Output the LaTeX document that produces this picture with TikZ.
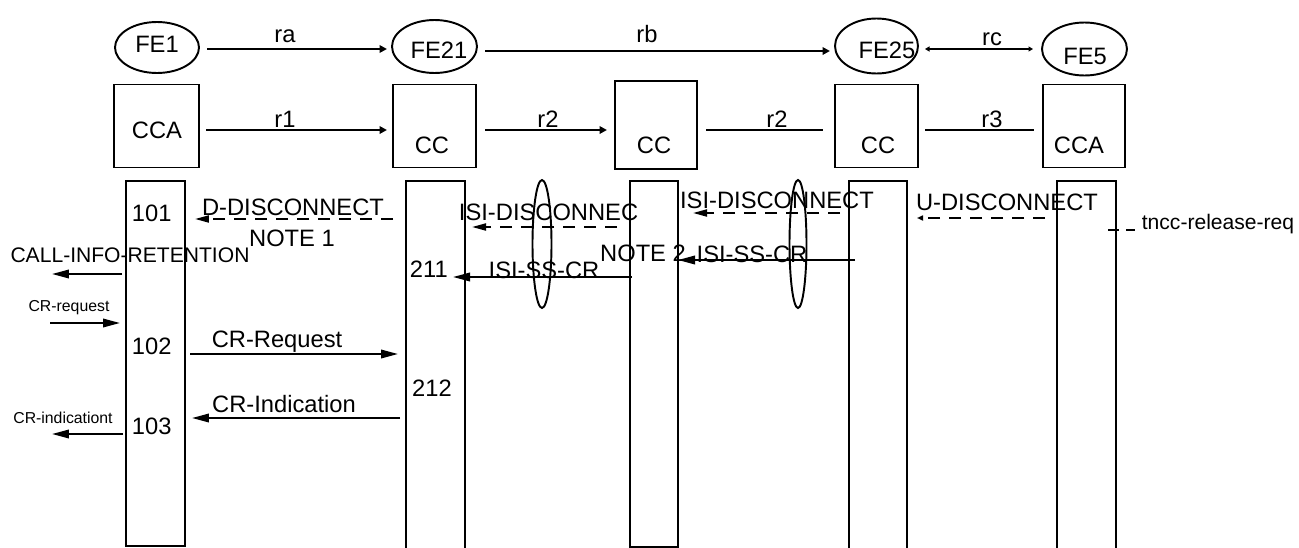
\documentclass[tikz,border=0pt]{standalone}
\usepackage{fontspec}
\setmainfont{Liberation Sans}
\usetikzlibrary{shapes.geometric,arrows.meta}

\tikzset{
  fe/.style={draw, ellipse, inner sep=0pt},
  caja/.style={draw, rectangle, inner sep=0pt},
  vida/.style={draw, rectangle, anchor=north, inner sep=0pt},
  fina/.style={draw, ellipse, inner sep=0pt, minimum height=2.56cm},
  txt/.style={font=\fontsize{13.5pt}{16pt}\selectfont, inner sep=0pt, text height=9.7pt, text depth=0pt},
  txtm/.style={font=\fontsize{12pt}{14pt}\selectfont, inner sep=0pt, text height=8.6pt, text depth=0pt},
  chico/.style={font=\fontsize{9pt}{11pt}\selectfont, inner sep=0pt, text height=6.4pt, text depth=0pt},
  fg/.style={-{Triangle[length=0.34cm,width=0.17cm]}},
  fp/.style={-{Triangle[length=0.15cm,width=0.15cm]}},
  fd/.style={dash pattern=on 0.24cm off 0.18cm, -{Triangle[length=0.28cm,width=0.14cm]}},
}

\begin{document}
\begin{tikzpicture}[x=0.02cm, y=-0.02cm, line width=1.1pt]
  \useasboundingbox (0,0) rectangle (1299,548);

  % Entidades funcionales
  \node[fe, minimum width=1.68cm, minimum height=1.02cm] (fe1) at (157,47.5) {};
  \node[fe, minimum width=1.70cm, minimum height=1.06cm] (fe21) at (434.5,46.5) {};
  \node[fe, minimum width=1.66cm, minimum height=1.10cm] (fe25) at (876.5,46) {};
  \node[fe, minimum width=1.70cm, minimum height=1.06cm] (fe5) at (1084.5,49) {};
  \node[txt] (fe1t) at (157,44) {FE1};
  \node[txt] (fe21t) at (439,50) {FE21};
  \node[txt] (fe25t) at (887,50) {FE25};
  \node[txt] (fe5t) at (1085,56) {FE5};

  % Cajas CCA / CC
  \node[caja, minimum width=1.70cm, minimum height=1.66cm] (b1) at (156.5,126) {};
  \node[caja, minimum width=1.66cm, minimum height=1.66cm] (b2) at (434.5,126) {};
  \node[caja, minimum width=1.64cm, minimum height=1.76cm] (b3) at (656,125) {};
  \node[caja, minimum width=1.66cm, minimum height=1.66cm] (b4) at (876.5,126) {};
  \node[caja, minimum width=1.64cm, minimum height=1.66cm] (b5) at (1084,126) {};
  \node[txt] (b1t) at (157,130) {CCA};
  \node[txt] (b2t) at (432,145) {CC};
  \node[txt] (b3t) at (654,145) {CC};
  \node[txt] (b4t) at (878,145) {CC};
  \node[txt] (b5t) at (1079,145) {CCA};

  % Relaciones
  \coordinate (ra1) at (207,49);   \coordinate (ra2) at (387,49);
  \coordinate (rb1) at (485,51);   \coordinate (rb2) at (830,51);
  \coordinate (rc1) at (925,49);   \coordinate (rc2) at (1033,49);
  \coordinate (r11) at (206,130);  \coordinate (r12) at (387,130);
  \coordinate (r21) at (485,130);  \coordinate (r22) at (607,130);
  \coordinate (r23) at (706,130);  \coordinate (r24) at (823,130);
  \coordinate (r31) at (925,130);  \coordinate (r32) at (1034,130);
  \draw[fp] (ra1) -- (ra2);
  \draw[fp] (rb1) -- (rb2);
  \draw[{Triangle[length=0.09cm,width=0.1cm]}-{Triangle[length=0.09cm,width=0.1cm]}] (rc1) -- (rc2);
  \draw[fp] (r11) -- (r12);
  \draw[fp] (r21) -- (r22);
  \draw (r23) -- (r24);
  \draw (r31) -- (r32);
  \node[txt] (ra) at (285,33.5) {ra};
  \node[txt] (rb) at (647,34) {rb};
  \node[txt] (rc) at (992,36.5) {rc};
  \node[txt] (r1) at (285,119) {r1};
  \node[txt] (r2a) at (548,119) {r2};
  \node[txt] (r2b) at (777,119) {r2};
  \node[txt] (r3) at (992,119) {r3};

  % Lineas de vida
  \node[vida, minimum width=1.18cm, minimum height=7.30cm] (ll1) at (155.5,180) {};
  \node[vida, minimum width=1.18cm, minimum height=8.00cm] (ll2) at (435.5,180) {};
  \node[vida, minimum width=0.96cm, minimum height=7.32cm] (ll3) at (654,180) {};
  \node[vida, minimum width=1.16cm, minimum height=8.00cm] (ll4) at (878,180) {};
  \node[vida, minimum width=1.18cm, minimum height=8.00cm] (ll5) at (1086.5,180) {};
  \node[fina, minimum width=0.38cm] (sel1) at (542,244) {};
  \node[fina, minimum width=0.34cm] (sel2) at (798,244) {};

  % Estados
  \node[txt, anchor=west] (e101) at (131,213) {101};
  \node[txt, anchor=west] (e102) at (131,346) {102};
  \node[txt, anchor=west] (e103) at (131,426) {103};
  \node[txt, anchor=west] (e211) at (409,269) {211};
  \node[txt] (e212) at (432,388) {212};

  % Mensajes
  \coordinate (dd1) at (393,219);  \coordinate (dd2) at (195,219);
  \coordinate (ci1) at (122,274);  \coordinate (ci2) at (52,274);
  \coordinate (cq1) at (50,323);   \coordinate (cq2) at (120,323);
  \coordinate (cr1) at (190,354);  \coordinate (cr2) at (398,354);
  \coordinate (cn1) at (400,418);  \coordinate (cn2) at (192,418);
  \coordinate (ct1) at (123,434);  \coordinate (ct2) at (52,434);
  \coordinate (id1) at (617,227);  \coordinate (id2) at (472,227);
  \coordinate (is1) at (632,277);  \coordinate (is2) at (453,277);
  \coordinate (jd1) at (840,213);  \coordinate (jd2) at (693,213);
  \coordinate (js1) at (855,260);  \coordinate (js2) at (678,260);
  \coordinate (ud1) at (1045,218); \coordinate (ud2) at (917,218);
  \coordinate (tn1) at (1108,230); \coordinate (tn2) at (1135,230);

  \draw[fd] (dd1) -- (dd2);
  \draw[fg] (ci1) -- (ci2);
  \draw[fg] (cq1) -- (cq2);
  \draw[fg] (cr1) -- (cr2);
  \draw[fg] (cn1) -- (cn2);
  \draw[fg] (ct1) -- (ct2);
  \draw[fd] (id1) -- (id2);
  \draw[fg] (is1) -- (is2);
  \draw[fd] (jd1) -- (jd2);
  \draw[fg] (js1) -- (js2);
  \draw[fd, -{Triangle[length=0.12cm,width=0.1cm]}] (ud1) -- (ud2);
  \draw[dash pattern=on 0.22cm off 0.14cm] (tn1) -- (tn2);

  \node[txt] (mdd) at (293,207) {D-DISCONNECT};
  \node[txt] (note1) at (292,238) {NOTE 1};
  \node[txtm] (mci) at (130,255) {CALL-INFO-RETENTION};
  \node[chico] (mcq) at (69,306) {CR-request};
  \node[txt] (mcr) at (277,339) {CR-Request};
  \node[txt] (mcn) at (284,403.5) {CR-Indication};
  \node[chico] (mct) at (63,418) {CR-indicationt};
  \node[txt, anchor=west] (mid) at (458,212) {ISI-DISCONNEC};
  \node[txt] (mis) at (544,270) {ISI-SS-CR};
  \node[txt] (mjd) at (777,200) {ISI-DISCONNECT};
  \node[txt] (note2) at (643,253) {NOTE 2};
  \node[txt] (mjs) at (752,254) {ISI-SS-CR};
  \node[txt] (mud) at (1007,202) {U-DISCONNECT};
  \node[txtm] (mtn) at (1218,222) {tncc-release-req};
\end{tikzpicture}
\end{document}
